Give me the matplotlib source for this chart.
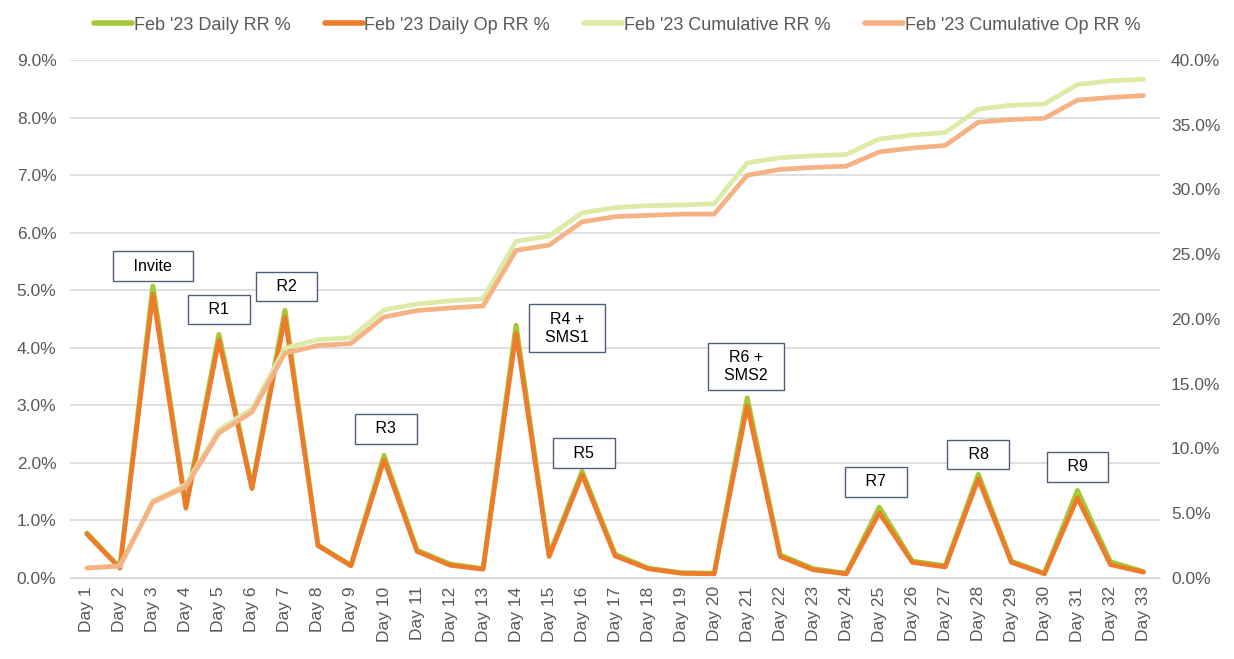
import matplotlib.pyplot as plt
from matplotlib.ticker import FuncFormatter, MultipleLocator

plt.rcParams['font.family'] = ['Liberation Sans', 'DejaVu Sans']

days = ['Day %d' % i for i in range(1, 34)]

# daily response rates, left axis (%)
daily_rr = [0.78, 0.18, 5.07, 1.25, 4.23, 1.58, 4.65, 0.57, 0.22, 2.13, 0.48,
            0.24, 0.16, 4.39, 0.40, 1.85, 0.41, 0.17, 0.09, 0.08, 3.13, 0.40,
            0.16, 0.08, 1.23, 0.29, 0.21, 1.80, 0.29, 0.08, 1.52, 0.28, 0.11]
daily_op = [0.76, 0.17, 4.93, 1.21, 4.13, 1.55, 4.53, 0.56, 0.21, 2.05, 0.46,
            0.22, 0.15, 4.25, 0.37, 1.79, 0.38, 0.16, 0.08, 0.07, 2.99, 0.37,
            0.14, 0.07, 1.13, 0.27, 0.19, 1.72, 0.27, 0.07, 1.39, 0.23, 0.10]

# cumulative response rates, right axis (%)
cum_rr = [0.78, 0.93, 5.95, 7.2, 11.45, 13.05, 17.75, 18.4, 18.55, 20.7, 21.15,
          21.4, 21.55, 26.0, 26.4, 28.2, 28.6, 28.75, 28.8, 28.9, 32.05, 32.45,
          32.6, 32.7, 33.9, 34.2, 34.4, 36.2, 36.5, 36.6, 38.1, 38.4, 38.5]
cum_op = [0.76, 0.92, 5.85, 7.05, 11.2, 12.8, 17.35, 17.95, 18.1, 20.15, 20.65,
          20.85, 21.0, 25.3, 25.7, 27.5, 27.9, 28.0, 28.1, 28.1, 31.1, 31.55,
          31.7, 31.8, 32.9, 33.2, 33.4, 35.2, 35.4, 35.5, 36.9, 37.1, 37.25]

# campaign touch labels: (text, day, y on left axis)
notes = [('Invite', 3.0, 5.42), ('R1', 5.0, 4.66), ('R2', 7.05, 5.06),
         ('R3', 10.05, 2.59), ('R4 +\nSMS1', 15.55, 4.34), ('R5', 16.05, 2.17),
         ('R6 +\nSMS2', 20.95, 3.67), ('R7', 24.9, 1.67), ('R8', 28.0, 2.14),
         ('R9', 31.0, 1.93)]

labels = ["Feb '23 Daily RR %", "Feb '23 Daily Op RR %",
          "Feb '23 Cumulative RR %", "Feb '23 Cumulative Op RR %"]
colors = ['#A4C936', '#EE7A2C', '#DCEBA6', '#F4B285']

x = list(range(1, 34))
grey = '#595959'

fig = plt.figure(figsize=(12.34, 6.59), dpi=100)
ax = fig.add_axes([0.057, 0.123, 0.883, 0.786])
ax2 = ax.twinx()

l1, = ax.plot(x, daily_rr, color=colors[0], lw=3.6, solid_capstyle='round', zorder=3)
l2, = ax.plot(x, daily_op, color=colors[1], lw=3.3, solid_capstyle='round', zorder=4)
l3, = ax2.plot(x, cum_rr, color=colors[2], lw=3.4, solid_capstyle='round')
l4, = ax2.plot(x, cum_op, color=colors[3], lw=3.4, solid_capstyle='round')

ax.set_xlim(0.5, 33.5)
ax.set_ylim(0, 9)
ax2.set_ylim(0, 40)
ax.yaxis.set_major_locator(MultipleLocator(1))
ax2.yaxis.set_major_locator(MultipleLocator(5))
pct = FuncFormatter(lambda v, p: '%.1f%%' % v)
ax.yaxis.set_major_formatter(pct)
ax2.yaxis.set_major_formatter(pct)

ax.set_xticks(x)
ax.set_xticklabels(days, rotation=90)
ax.grid(axis='y', color='#D9D9D9', lw=1.2)
ax.set_axisbelow(True)

for a in (ax, ax2):
    for s in a.spines.values():
        s.set_visible(False)
    a.tick_params(length=0, labelsize=12.5, colors=grey)
ax.spines['bottom'].set_visible(True)
ax.spines['bottom'].set_color('#D9D9D9')
ax.tick_params(axis='x', pad=6)
ax.tick_params(axis='y', pad=10)
ax2.tick_params(axis='y', pad=8)

for txt, d, yv in notes:
    if '\n' in txt:
        body = '\n'.join('  ' + t + '  ' for t in txt.split('\n'))
    else:
        body = '   ' + txt + '   '
    ax2.text(d, yv * 40 / 9, body, ha='center', va='center', fontsize=11.5,
             color='black', multialignment='center', linespacing=1.25, zorder=6,
             bbox=dict(boxstyle='square,pad=0.45', fc='white', ec='#4E5D78', lw=1))

leg = fig.legend([l1, l2, l3, l4], labels, loc='center', bbox_to_anchor=(0.5, 0.962),
                 ncol=4, frameon=False, fontsize=13, labelcolor=grey,
                 handlelength=2.1, handletextpad=0.1, columnspacing=1.9)
for h in leg.get_lines():
    h.set_linewidth(4)

fig.savefig('out.png', dpi=100)
